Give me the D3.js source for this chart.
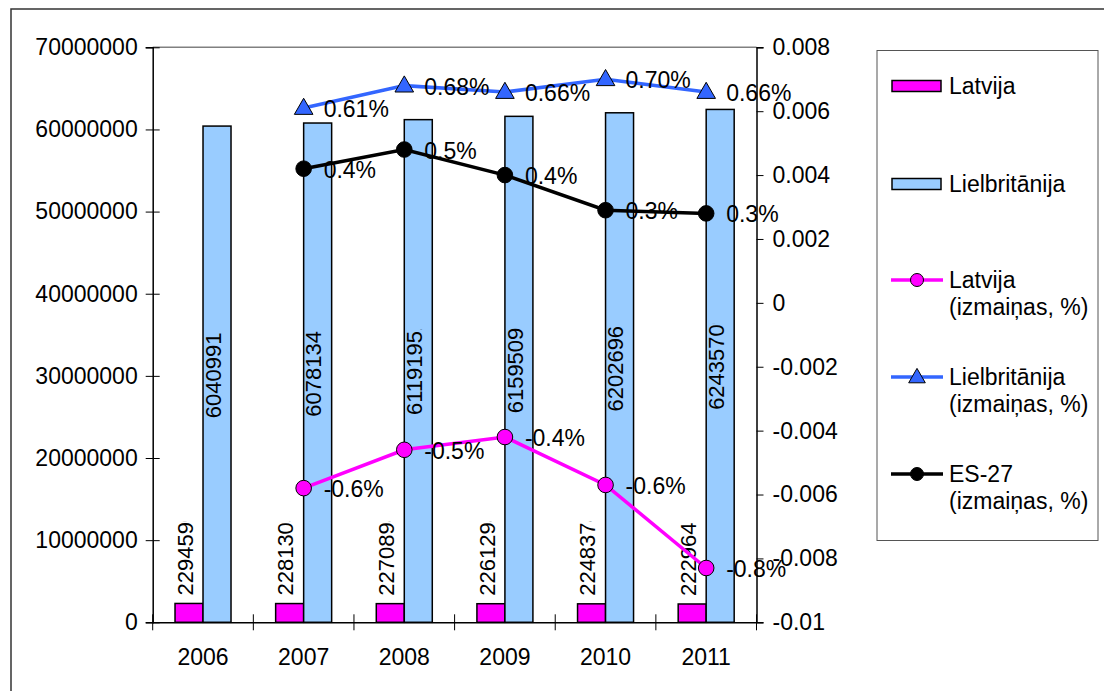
<!DOCTYPE html>
<html lang="lv">
<head>
  <meta charset="UTF-8">
  <title>Latvija un Lielbritānija</title>
  <script src="https://d3js.org/d3.v7.min.js"></script>
  <style>
    body {
      margin: 0;
      background: white;
      font-family: 'Liberation Sans', Arial, sans-serif;
    }
    svg text {
      font-family: 'Liberation Sans', Arial, sans-serif;
      fill: #000;
    }
  </style>
</head>
<body>
<svg width="1104" height="691"></svg>

<script>
  // Data
  const years = ["2006", "2007", "2008", "2009", "2010", "2011"];
  const latvija = [2294590, 2281305, 2270894, 2261294, 2248374, 2229641];
  const lielbritanija = [60409918, 60781346, 61191951, 61595091, 62026962, 62435709];
  const latvijaChange = [null, -0.0058, -0.0046, -0.0042, -0.0057, -0.0083];
  const lielbritanijaChange = [null, 0.0061, 0.0068, 0.0066, 0.0070, 0.0066];
  const esChange = [null, 0.0042, 0.0048, 0.0040, 0.0029, 0.0028];
  const leftTicks = [0, 10000000, 20000000, 30000000, 40000000, 50000000, 60000000, 70000000];

  const plot = {left: 152.7, right: 756.5, top: 47.3, bottom: 622.3};

  const svg = d3.select("svg");

  // outer chart frame (runs past the right and bottom edges)
  svg.append("path")
    .attr("d", "M11,700 L11,9 L1110,9")
    .attr("fill", "none")
    .attr("stroke", "#333")
    .attr("stroke-width", 1.5);

  const x = d3.scaleBand()
    .domain(years)
    .range([plot.left, plot.right]);

  const y = d3.scaleLinear()
    .domain([0, 70000000])
    .range([plot.bottom, plot.top]);

  const y2 = d3.scaleLinear()
    .domain([-0.01, 0.008])
    .range([plot.bottom, plot.top]);

  const loc = d3.formatLocale({decimal: ".", thousands: ",", grouping: [3], currency: ["", ""], minus: "-"});
  const pct1 = loc.format(".1%");
  const pct2 = loc.format(".2%");

  // plot area top border
  svg.append("line")
    .attr("x1", plot.left).attr("x2", plot.right)
    .attr("y1", plot.top).attr("y2", plot.top)
    .attr("stroke", "#808080")
    .attr("stroke-width", 1.5);

  // clip paths for the cut-off bar labels
  const defs = svg.append("defs");
  defs.append("clipPath").attr("id", "clipLv")
    .append("rect").attr("x", 0).attr("y", -20).attr("width", 74).attr("height", 40);
  defs.append("clipPath").attr("id", "clipUk")
    .append("rect").attr("x", 0).attr("y", -20).attr("width", 86).attr("height", 40);

  const barW = 28;
  const center = d => x(d) + x.bandwidth() / 2;

  // bars
  svg.append("g").selectAll("rect")
    .data(years)
    .join("rect")
    .attr("x", d => center(d) - barW)
    .attr("y", (d, i) => y(latvija[i]))
    .attr("width", barW)
    .attr("height", (d, i) => y(0) - y(latvija[i]))
    .attr("fill", "#FF00FF")
    .attr("stroke", "#000")
    .attr("stroke-width", 1.5);

  svg.append("g").selectAll("rect")
    .data(years)
    .join("rect")
    .attr("x", d => center(d))
    .attr("y", (d, i) => y(lielbritanija[i]))
    .attr("width", barW)
    .attr("height", (d, i) => y(0) - y(lielbritanija[i]))
    .attr("fill", "#99CCFF")
    .attr("stroke", "#000")
    .attr("stroke-width", 1.5);

  // bar value labels (rotated, clipped like the original)
  svg.append("g").selectAll("g")
    .data(years)
    .join("g")
    .attr("transform", (d, i) => `translate(${center(d) - barW / 2 - 4},${y(latvija[i]) - 8}) rotate(-90)`)
    .append("text")
    .attr("dy", "0.35em")
    .attr("clip-path", "url(#clipLv)")
    .style("font-size", "22px")
    .text((d, i) => latvija[i]);

  svg.append("g").selectAll("g")
    .data(years)
    .join("g")
    .attr("transform", (d, i) => `translate(${center(d) + barW / 2 - 4},${(y(lielbritanija[i]) + y(0)) / 2 + 44}) rotate(-90)`)
    .append("text")
    .attr("dy", "0.35em")
    .attr("clip-path", "url(#clipUk)")
    .style("font-size", "22px")
    .text((d, i) => lielbritanija[i]);

  // axes
  const leftAxis = svg.append("g")
    .attr("transform", `translate(${plot.left},0)`)
    .call(d3.axisLeft(y).tickValues(leftTicks).tickFormat(d3.format("d")).tickSize(7).tickPadding(8));
  leftAxis.selectAll(".tick line").attr("x2", 7).attr("x1", -7);

  const rightAxis = svg.append("g")
    .attr("transform", `translate(${plot.right},0)`)
    .call(d3.axisRight(y2).ticks(10).tickFormat(d => d === 0 ? "0" : String(+d.toFixed(3)).replace("\u2212", "-")).tickSize(7).tickPadding(9));

  const bottomAxis = svg.append("g")
    .attr("transform", `translate(0,${plot.bottom})`)
    .call(d3.axisBottom(x).tickSize(0).tickPadding(26));

  // category boundary ticks crossing the x axis
  const bounds = years.map(d => x(d)).concat([plot.right]);
  svg.append("g").selectAll("line")
    .data(bounds)
    .join("line")
    .attr("x1", d => d).attr("x2", d => d)
    .attr("y1", plot.bottom - 8).attr("y2", plot.bottom + 8)
    .attr("stroke", "#000")
    .attr("stroke-width", 1);

  [leftAxis, rightAxis, bottomAxis].forEach(a => {
    a.select(".domain").attr("stroke", "#000").attr("stroke-width", 1.5);
    a.selectAll(".tick line").attr("stroke", "#000");
    a.selectAll("text").style("font-size", "23px").attr("fill", "#000");
  });

  // change lines
  const pts = arr => years.map((d, i) => ({year: d, v: arr[i]})).filter(p => p.v !== null);
  const line = d3.line().x(p => center(p.year)).y(p => y2(p.v));
  const tri = d3.symbol().type(d3.symbolTriangle).size(150);

  function drawSeries(arr, color, marker, fmt) {
    const data = pts(arr);
    svg.append("path")
      .datum(data)
      .attr("d", line)
      .attr("fill", "none")
      .attr("stroke", color)
      .attr("stroke-width", 3.5);
    const g = svg.append("g");
    if (marker === "triangle") {
      g.selectAll("path").data(data).join("path")
        .attr("d", tri)
        .attr("transform", p => `translate(${center(p.year)},${y2(p.v) + 1})`)
        .attr("fill", color)
        .attr("stroke", "#000")
        .attr("stroke-width", 1);
    } else {
      g.selectAll("circle").data(data).join("circle")
        .attr("cx", p => center(p.year))
        .attr("cy", p => y2(p.v))
        .attr("r", 7.8)
        .attr("fill", color)
        .attr("stroke", "#000")
        .attr("stroke-width", 1);
    }
    svg.append("g").selectAll("text").data(data).join("text")
      .attr("x", p => center(p.year) + 20)
      .attr("y", p => y2(p.v) + 1)
      .attr("dy", "0.35em")
      .style("font-size", "23px")
      .text(p => fmt(p.v));
  }

  drawSeries(latvijaChange, "#FF00FF", "circle", pct1);
  drawSeries(lielbritanijaChange, "#3366FF", "triangle", pct2);
  drawSeries(esChange, "#000000", "circle", pct1);

  // legend
  const legend = svg.append("g");
  legend.append("rect")
    .attr("x", 877).attr("y", 50.5)
    .attr("width", 221).attr("height", 490)
    .attr("fill", "white")
    .attr("stroke", "#555")
    .attr("stroke-width", 1);

  const legendItems = [
    {type: "bar", color: "#FF00FF", lines: ["Latvija"], y: 86},
    {type: "bar", color: "#99CCFF", lines: ["Lielbritānija"], y: 184},
    {type: "circle", color: "#FF00FF", lines: ["Latvija", "(izmaiņas, %)"], y: 280},
    {type: "triangle", color: "#3366FF", lines: ["Lielbritānija", "(izmaiņas, %)"], y: 377},
    {type: "circle", color: "#000000", lines: ["ES-27", "(izmaiņas, %)"], y: 474}
  ];

  legendItems.forEach(it => {
    const g = legend.append("g").attr("transform", `translate(0,${it.y})`);
    if (it.type === "bar") {
      g.append("rect")
        .attr("x", 892).attr("y", -5.5)
        .attr("width", 49).attr("height", 11)
        .attr("fill", it.color)
        .attr("stroke", "#000")
        .attr("stroke-width", 1.5);
    } else {
      g.append("line")
        .attr("x1", 891).attr("x2", 943)
        .attr("y1", 0).attr("y2", 0)
        .attr("stroke", it.color)
        .attr("stroke-width", 3.5);
      if (it.type === "triangle") {
        g.append("path")
          .attr("d", d3.symbol().type(d3.symbolTriangle).size(120)())
          .attr("transform", "translate(917,1)")
          .attr("fill", it.color)
          .attr("stroke", "#000")
          .attr("stroke-width", 1);
      } else {
        g.append("circle")
          .attr("cx", 917).attr("cy", 0).attr("r", 6.5)
          .attr("fill", it.color)
          .attr("stroke", "#000")
          .attr("stroke-width", 1);
      }
    }
    it.lines.forEach((t, k) => {
      g.append("text")
        .attr("x", 949)
        .attr("y", k * 27)
        .attr("dy", "0.35em")
        .style("font-size", "23px")
        .text(t);
    });
  });
</script>
</body>
</html>
